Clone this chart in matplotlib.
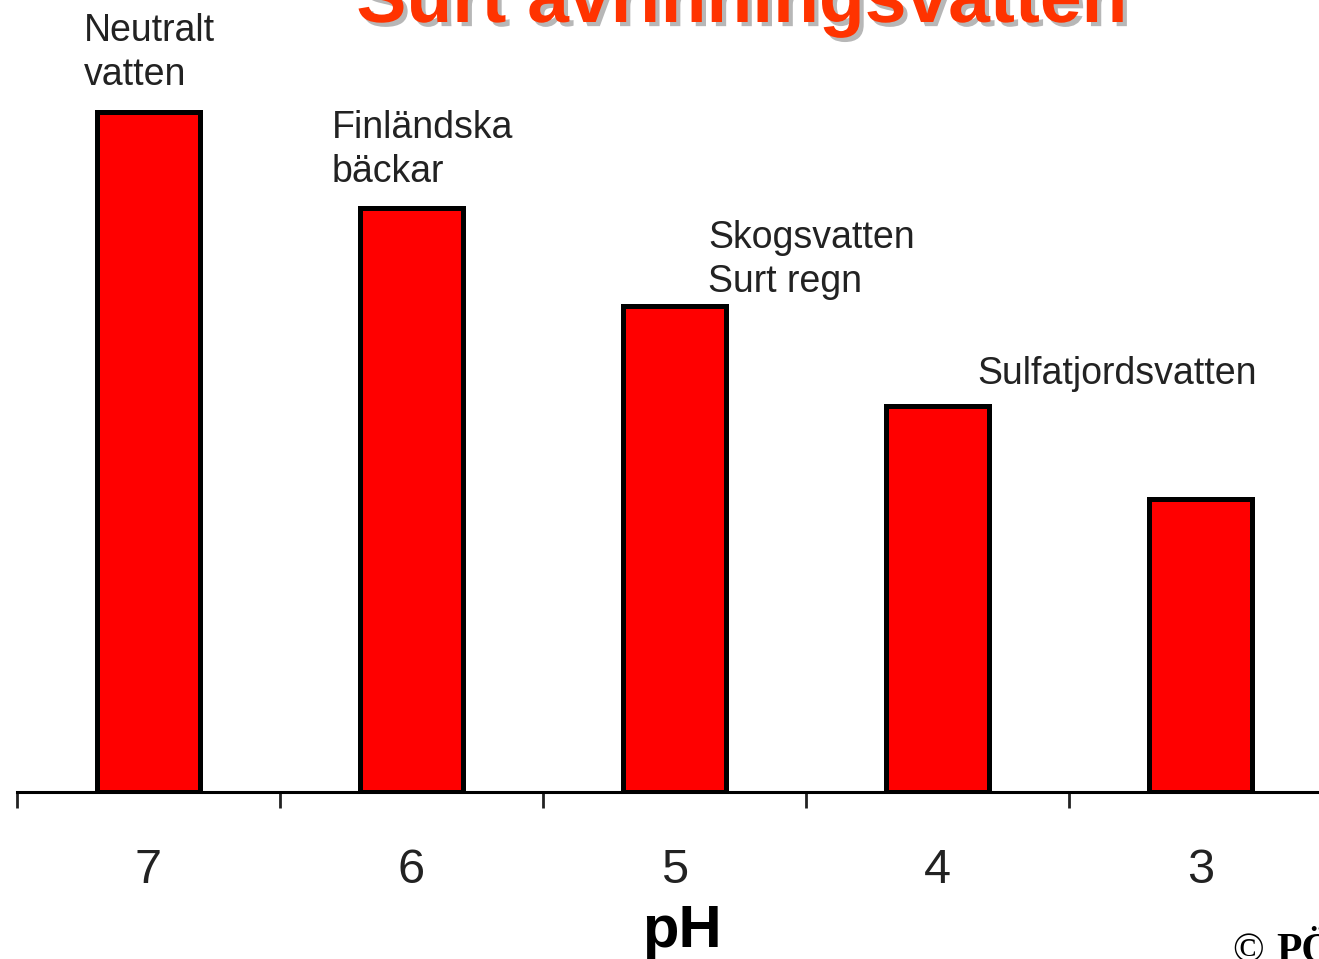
import matplotlib.pyplot as plt
import matplotlib.patheffects as pe

# data (bar height relative to the tallest bar)
ph_labels = ["7", "6", "5", "4", "3"]
bar_heights = [100, 85.9, 71.5, 56.8, 43.1]
annotations = ["Neutralt\nvatten", "Finländska\nbäckar", "Skogsvatten\nSurt regn", "Sulfatjordsvatten"]
annot_x = [-0.245, 0.698, 2.127, 3.150]
annot_y = [104.0, 89.7, 73.5, 60.0]   # baseline of the last line

plt.rcParams['font.family'] = ['Liberation Sans', 'DejaVu Sans']

W, H = 1319, 959
fig = plt.figure(figsize=(W / 100, H / 100), dpi=100)
ax = fig.add_axes([17 / W, (H - 792) / H, 1315 / W, 792 / H])

x = range(len(ph_labels))
ax.bar(x, bar_heights, width=0.39, color="#ff0000", edgecolor="black", linewidth=3.6, zorder=2)

ax.set_xlim(-0.5, 4.5)
ax.set_ylim(0, 116.5)

for s in ["top", "left", "right"]:
    ax.spines[s].set_visible(False)
ax.spines["bottom"].set_linewidth(2.2)
ax.spines["bottom"].set_zorder(3)
ax.set_yticks([])

ax.set_xticks(list(x))
ax.set_xticklabels(ph_labels, fontsize=35, color="#222222")
ax.set_xticks([i - 0.5 for i in range(6)], minor=True)
ax.tick_params(axis="x", which="major", length=0, pad=40)
ax.tick_params(axis="x", which="minor", length=11.5, width=2, direction="out", color="#222222")

for txt, tx, ty in zip(annotations, annot_x, annot_y):
    ax.text(tx, ty, txt, fontsize=27, color="#222222", ha="left", va="baseline",
            linespacing=1.3, clip_on=False)

fig.text(682 / W, 1 - 947 / H, "pH", fontsize=43, fontweight="bold",
         ha="center", va="baseline", color="black")

fig.text(742 / W, 1 - 22 / H, "Surt avrinningsvatten", fontsize=54, fontweight="bold",
         ha="center", va="baseline", color="#ff3300",
         path_effects=[pe.SimplePatchShadow(offset=(3, -3), shadow_rgbFace="#999999", alpha=0.7), pe.Normal()])

fig.text(1232 / W, 1 - 962 / H, "©", fontsize=30, family="Liberation Serif",
         ha="left", va="baseline", color="black")
fig.text(1276 / W, 1 - 962 / H, "PÖ", fontsize=30, family="Liberation Serif", fontweight="bold",
         ha="left", va="baseline", color="black")

fig.savefig("out.png", dpi=100)
